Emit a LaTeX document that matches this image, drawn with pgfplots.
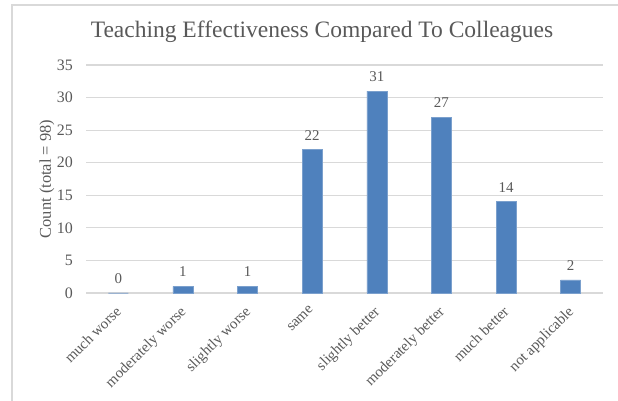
\documentclass[border=0pt]{standalone}
\usepackage{pgfplots}
\pgfplotsset{compat=1.18}
\usepackage{fontspec}
\setmainfont{Liberation Serif}
\definecolor{txt}{HTML}{595959}
\definecolor{gridc}{HTML}{D9D9D9}
\definecolor{barc}{HTML}{4F81BD}
\begin{document}
\begin{tikzpicture}
\useasboundingbox (0bp,0bp) rectangle (618bp,401bp);
\draw[color=gridc, line width=1.5bp] (12bp,0bp) -- (12bp,396bp) -- (618bp,396bp);
\node[text=txt, font=\fontsize{23.6}{28}\selectfont, anchor=base] at (322bp,363.5bp) {Teaching Effectiveness Compared To Colleagues};
\begin{axis}[
  at={(86bp,108bp)}, anchor=south west, scale only axis,
  width=517bp, height=228bp,
  xmin=-0.5, xmax=7.5, ymin=0, ymax=35,
  ytick={0,5,...,35},
  xtick=data,
  xticklabels={much worse, moderately worse, slightly worse, same, slightly better, moderately better, much better, not applicable},
  xticklabel style={xshift=-3.7bp, yshift=-12bp, rotate=45, anchor=north east, font=\fontsize{15}{18}\selectfont, text=txt, inner sep=0pt},
  yticklabel style={font=\fontsize{16}{19}\selectfont, text=txt, anchor=east, inner sep=0pt, xshift=-13bp},
  /pgf/number format/assume math mode=true,
  major tick length=0pt,
  axis line style={draw=none},
  ymajorgrids, grid style={color=gridc, line width=1.2bp},
  ylabel={Count (total = 98)},
  ylabel style={at={(axis description cs:-0.0755,0.5)}, anchor=center, font=\fontsize{16.5}{19}\selectfont, text=txt},
  ybar, bar width=20bp,
  nodes near coords,
  every node near coord/.append style={text=txt, font=\fontsize{15}{18}\selectfont, yshift=6bp},
  clip=false,
]
\addplot[fill=barc, draw=barc!75!white, line width=0.6bp] coordinates {
  (0,0) (1,1) (2,1) (3,22) (4,31) (5,27) (6,14) (7,2)
};
\end{axis}
\end{tikzpicture}
\end{document}
